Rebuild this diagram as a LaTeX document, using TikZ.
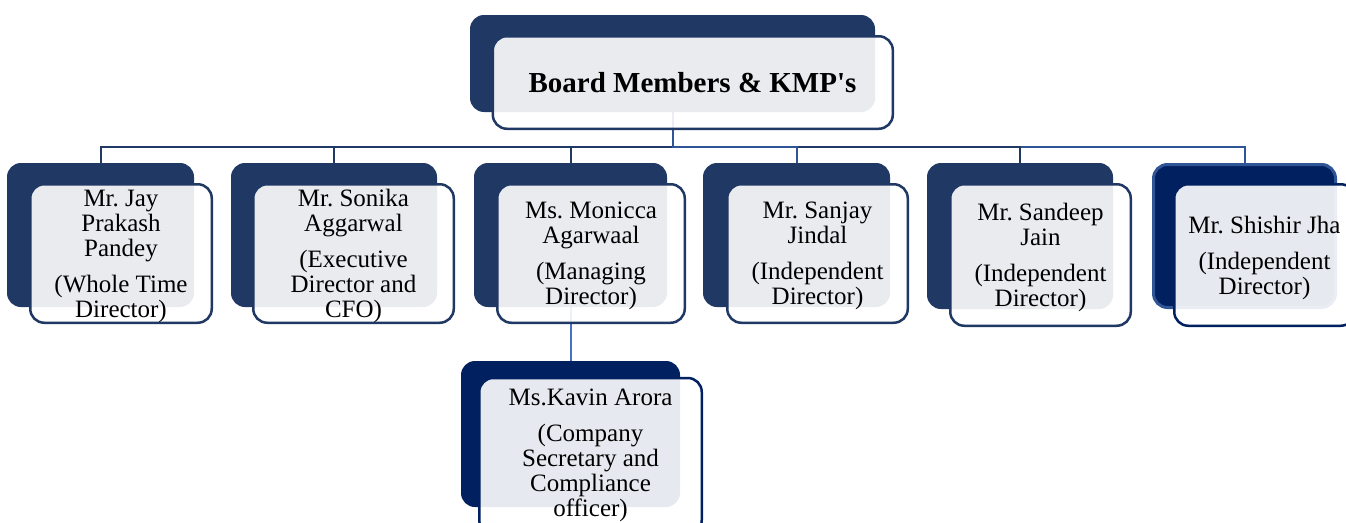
\documentclass[tikz,border=0pt]{standalone}
\usepackage{fontspec}
\setmainfont{Liberation Serif}
\frenchspacing
\definecolor{navyA}{HTML}{203864}
\definecolor{navyC}{HTML}{002060}
\definecolor{blueB}{HTML}{2F5597}
\definecolor{blueL}{HTML}{4472C4}
\begin{document}
\begin{tikzpicture}[x=1pt,y=-1pt,
  darkbox/.style={rectangle, fill=navyA, rounded corners=14pt, inner sep=0pt, outer sep=0pt},
  frontbox/.style={rectangle, draw=navyA, line width=2.5pt, fill=white, fill opacity=0.9, rounded corners=14pt, inner sep=0pt, outer sep=0pt},
  conn/.style={draw=navyA, line width=2pt},
  connlight/.style={conn, draw=blueB},
  connpale/.style={conn, draw=blueL},
  label/.style={font=\fontsize{25}{25}\selectfont, align=center, inner sep=0pt, text=black},
  titlelabel/.style={font=\fontsize{29}{30}\selectfont\bfseries, inner sep=0pt, text=black},
]
\clip (0,0) rectangle (1346,522);
\fill[white] (0,0) rectangle (1346,522);

% dark back boxes
\node[darkbox, minimum width=405pt, minimum height=97pt] (T) at (672.5,63.5) {};
\node[darkbox, minimum width=187pt, minimum height=144pt] (B1) at (100.5,235) {};
\node[darkbox, minimum width=206pt, minimum height=144pt] (B2) at (334,235) {};
\node[darkbox, minimum width=193pt, minimum height=144pt] (B3) at (570.5,235) {};
\node[darkbox, minimum width=187pt, minimum height=144pt] (B4) at (796.5,235) {};
\node[darkbox, minimum width=186pt, minimum height=146pt] (B5) at (1020,236) {};
\node[darkbox, fill=navyC, draw=blueB, line width=3pt, minimum width=182pt, minimum height=143pt] (B6) at (1244.5,236) {};
\node[darkbox, fill=navyC, minimum width=219pt, minimum height=146pt] (K) at (570.5,434) {};

% connectors
\draw[conn] (T.south) -- ++(0,35) -| (B1.north);
\draw[conn] (T.south) -- ++(0,35) -| (B2.north);
\draw[conn] (T.south) -- ++(0,35) -| (B3.north);
\draw[connlight] (T.south) -- ++(0,35) -| (B6.north);
\draw[conn] (T.south) -- ++(0,35) -| (B5.north);
\draw[connlight] (T.south) -- ++(0,35) -| (B4.north);
\draw[connpale] (B3.south) -- (K.north);

% front boxes
\node[frontbox, minimum width=400pt, minimum height=92.5pt] (Tf) at (692.8,82.5) {};
\node[frontbox, minimum width=181.5pt, minimum height=138.5pt] (B1f) at (121,253.5) {};
\node[frontbox, minimum width=200.5pt, minimum height=138.5pt] (B2f) at (353.5,253.5) {};
\node[frontbox, minimum width=187.5pt, minimum height=138.5pt] (B3f) at (591,253.5) {};
\node[frontbox, minimum width=180.5pt, minimum height=138.5pt] (B4f) at (817.5,253.5) {};
\node[frontbox, minimum width=180.5pt, minimum height=141.5pt] (B5f) at (1040.5,255) {};
\node[frontbox, draw=navyC, minimum width=180.5pt, minimum height=141.5pt] (B6f) at (1264.5,255) {};
\node[frontbox, draw=navyC, minimum width=222.5pt, minimum height=156pt] (Kf) at (590.5,456) {};

% texts
\node[titlelabel, anchor=base] (Tt) at (692.5,92) {Board Members \& KMP\textquotesingle s};
\node[label] (B1t) at (121,256) {Mr. Jay\\Prakash\\Pandey\\[11pt](Whole Time\\Director)};
\node[label] (B2t) at (353.5,255.5) {Mr. Sonika\\Aggarwal\\[11pt](Executive\\Director and\\CFO)};
\node[label] (B3t) at (591,256) {Ms. Monicca\\Agarwaal\\[11pt](Managing\\Director)};
\node[label] (B4t) at (817.5,255.5) {Mr. Sanjay\\Jindal\\[11pt](Independent\\Director)};
\node[label] (B5t) at (1040.5,257) {Mr. Sandeep\\Jain\\[11pt](Independent\\Director)};
\node[label] (B6t) at (1264.5,258) {Mr. Shishir Jha\\[11pt](Independent\\Director)};
\node[label] (Kt) at (590.5,455) {Ms.Kavin Arora\\[11pt](Company\\Secretary and\\Compliance\\officer)};
\end{tikzpicture}
\end{document}
